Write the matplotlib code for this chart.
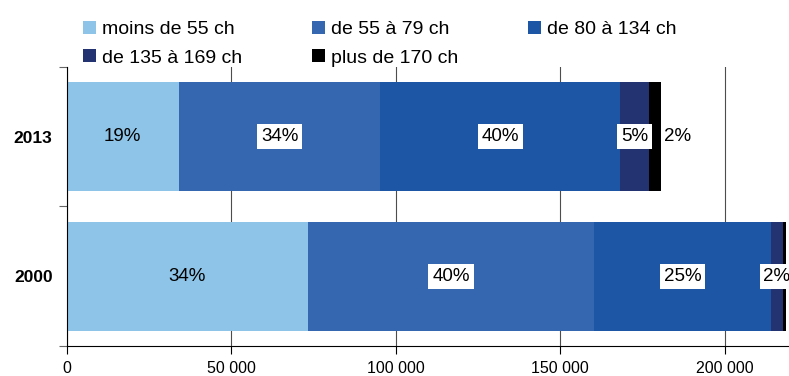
import matplotlib.pyplot as plt
from matplotlib.patches import Patch

# Parc par tranche de puissance
years = ["2000", "2013"]
classes = ["moins de 55 ch", "de 55 à 79 ch", "de 80 à 134 ch",
           "de 135 à 169 ch", "plus de 170 ch"]
values_2000 = [73400, 86900, 53900, 3400, 900]
values_2013 = [34200, 61200, 72800, 8900, 3700]
colors = ["#8EC4E8", "#3567B0", "#1E56A6", "#233270", "#000000"]
xticks = [0, 50000, 100000, 150000, 200000]
xtick_labels = ["0", "50 000", "100 000", "150 000", "200 000"]

plt.rcParams["font.family"] = ["Liberation Sans", "DejaVu Sans"]

fig = plt.figure(figsize=(7.89, 3.76), dpi=100)
ax = fig.add_axes([0.0843, 0.0798, 0.9176, 0.7422])

series = [values_2000, values_2013]
for yi, vals in enumerate(series):
    total = sum(vals)
    left = 0
    for ci, v in enumerate(vals):
        ax.barh(yi, v, left=left, height=0.78, color=colors[ci], zorder=2)
        pct = round(100 * v / total)
        if pct >= 1:
            box = dict(facecolor="white", edgecolor="none", pad=2.8)
            if ci == 0:
                box = None
            cx = left + v / 2
            ha = "center"
            if ci == len(vals) - 1:
                # last slice is too thin: label sits past the bar end
                cx = left + v + 700
                ha = "left"
                box = None
            ax.text(cx, yi, f"{pct}%", ha=ha, va="center", fontsize=13.5,
                    bbox=box, zorder=3)
        left += v

ax.set_xlim(0, 220000)
ax.set_ylim(-0.5, 1.5)

ax.set_xticks(xticks)
ax.set_xticklabels(xtick_labels, fontsize=11.5)
ax.tick_params(axis="x", direction="out", length=6, width=0.8, pad=5)
ax.grid(axis="x", color="0.3", lw=0.8, zorder=0)

ax.set_yticks([-0.5, 0.5, 1.5])
ax.set_yticklabels([])
ax.tick_params(axis="y", which="major", direction="out", length=6,
               width=0.8, color="0.4")
ax.set_yticks([0, 1], minor=True)
ax.set_yticklabels(years, minor=True, fontsize=12.5, fontweight="bold")
ax.tick_params(axis="y", which="minor", length=0, pad=10)

for s in ["top", "right"]:
    ax.spines[s].set_visible(False)
ax.spines["left"].set_linewidth(0.8)
ax.spines["bottom"].set_linewidth(0.8)

# legend filled row by row
handles = [Patch(facecolor=c, edgecolor="none") for c in colors]
order = [0, 3, 1, 4, 2]
fig.legend([handles[i] for i in order], [classes[i] for i in order],
           ncol=3, loc="upper left", bbox_to_anchor=(0.105, 0.944),
           frameon=False, fontsize=14, handlelength=0.67, handleheight=0.67,
           handletextpad=0.3, columnspacing=3.6, labelspacing=0.55,
           borderpad=0, borderaxespad=0)

fig.savefig("out.png", dpi=100)
